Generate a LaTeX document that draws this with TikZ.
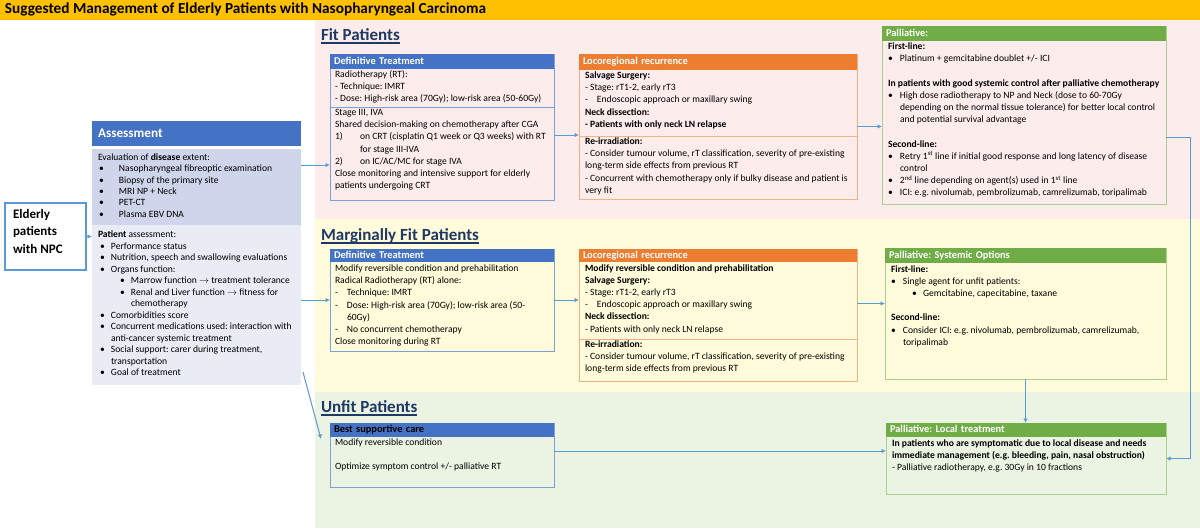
\documentclass[tikz,border=0pt]{standalone}
\usepackage{fontspec}
\setmainfont{Carlito}
\usetikzlibrary{arrows.meta}
\definecolor{titleyellow}{HTML}{FFC000}
\definecolor{pinkbg}{HTML}{FDECEC}
\definecolor{yellowbg}{HTML}{FFFBDB}
\definecolor{greenbg}{HTML}{EBF3E3}
\definecolor{navy}{HTML}{1F3864}
\definecolor{hblue}{HTML}{4472C4}
\definecolor{bbord}{HTML}{7F9FD8}
\definecolor{horange}{HTML}{ED7D31}
\definecolor{obord}{HTML}{F4B183}
\definecolor{hgreen}{HTML}{70AD47}
\definecolor{gbord}{HTML}{A9D18E}
\definecolor{disfill}{HTML}{CFD5EA}
\definecolor{patfill}{HTML}{E9EBF5}
\definecolor{arrowblue}{HTML}{5B9BD5}
\newcommand{\myind}[2]{\makebox[#1pt][l]{#2}}
\frenchspacing
\begin{document}
\frenchspacing
\begin{tikzpicture}[x=1pt,y=-1pt,
  every node/.style={inner sep=0pt, outer sep=0pt},
  boxframe/.style={draw=#1, line width=0.9pt, anchor=north west, inner sep=0pt},
  hdr/.style={fill=#1, anchor=north west, text=white, align=left, inner xsep=4pt, inner ysep=0pt, text height=7.3pt, text depth=2pt, font=\bfseries\fontsize{10.4}{12}\selectfont},
  bodytext/.style={anchor=north west, align=left, font=\fontsize{9.6}{12.2}\selectfont},
  heading/.style={anchor=base west, text=navy, font=\bfseries\fontsize{17}{20}\selectfont},
  uline/.style={draw=navy, line width=1.1pt},
  arr/.style={draw=arrowblue, line width=1pt, -{Latex[length=4.5pt,width=4.5pt]}},
  divider/.style={draw=#1, line width=0.9pt}
]
\useasboundingbox (0,0) rectangle (1200,528);
% backgrounds
\fill[white] (0,0) rectangle (1200,528);
\fill[titleyellow] (0,0) rectangle (1200,20);
\fill[pinkbg] (315,20) rectangle (1200,219);
\fill[yellowbg] (315,219) rectangle (1200,392);
\fill[greenbg] (315,392) rectangle (1200,528);
\node[anchor=base west, font=\bfseries\fontsize{15.3}{17}\selectfont] (title) at (5,13.5) {Suggested Management of Elderly Patients with Nasopharyngeal Carcinoma};

% headings
\node[heading] (hfit) at (321,40) {Fit Patients};
\draw[uline] ([yshift=-3pt]hfit.base west) -- ([yshift=-3pt]hfit.base east);
\node[heading] (hmar) at (321,240) {Marginally Fit Patients};
\draw[uline] ([yshift=-3pt]hmar.base west) -- ([yshift=-3pt]hmar.base east);
\node[heading] (hunf) at (321,412) {Unfit Patients};
\draw[uline] ([yshift=-3pt]hunf.base west) -- ([yshift=-3pt]hunf.base east);

% Elderly
\node[draw=arrowblue, line width=1.3pt, fill=white, anchor=north west, minimum width=81pt, minimum height=67pt] (eld) at (5,203) {};
\node[anchor=north west, align=left, font=\bfseries\fontsize{13}{17.5}\selectfont] (eldt) at (13,205.8) {\strut Elderly\\patients\\with NPC};

% Assessment
\node[fill=hblue, anchor=north west, text width=197pt, inner xsep=6pt, minimum height=25pt, text=white, align=left, font=\bfseries\fontsize{13.2}{15}\selectfont] (asm) at (92,121) {Assessment};
\node[fill=disfill, anchor=north west, minimum width=209pt, minimum height=76pt] (dis) at (92,149) {};
\node[bodytext, font=\fontsize{9.6}{11.3}\selectfont] (dist) at (98,152.6) {\strut Evaluation of \textbf{disease} extent:\\
\hspace*{1pt}\myind{20}{\textbullet}Nasopharyngeal fibreoptic examination\\
\hspace*{1pt}\myind{20}{\textbullet}Biopsy of the primary site\\
\hspace*{1pt}\myind{20}{\textbullet}MRI NP + Neck\\
\hspace*{1pt}\myind{20}{\textbullet}PET-CT\\
\hspace*{1pt}\myind{20}{\textbullet}Plasma EBV DNA};
\node[fill=patfill, anchor=north west, minimum width=209pt, minimum height=160pt] (pat) at (92,225) {};
\node[bodytext, font=\fontsize{9.6}{11.5}\selectfont] (patt) at (98,229.5) {\strut\textbf{Patient} assessment:\\
\hspace*{2pt}\myind{11}{\textbullet}Performance status\\
\hspace*{2pt}\myind{11}{\textbullet}Nutrition, speech and swallowing evaluations\\
\hspace*{2pt}\myind{11}{\textbullet}Organs function:\\
\hspace*{22pt}\myind{11}{\textbullet}Marrow function $\rightarrow$ treatment tolerance\\
\hspace*{22pt}\myind{11}{\textbullet}Renal and Liver function $\rightarrow$ fitness for\\
\hspace*{33pt}chemotherapy\\
\hspace*{2pt}\myind{11}{\textbullet}Comorbidities score\\
\hspace*{2pt}\myind{11}{\textbullet}Concurrent medications used: interaction with\\
\hspace*{13pt}anti-cancer systemic treatment\\
\hspace*{2pt}\myind{11}{\textbullet}Social support: carer during treatment,\\
\hspace*{13pt}transportation\\
\hspace*{2pt}\myind{11}{\textbullet}Goal of treatment};

% Fit: definitive
\node[boxframe=bbord, minimum width=224pt, minimum height=146pt] (fdt) at (330,54) {};
\node[hdr=hblue, text width=216pt, minimum height=15pt] (fdth) at (fdt.north west) {Definitive Treatment};
\node[bodytext] (fdta) at (335,69) {\strut Radiotherapy (RT):\\- Technique: IMRT\\- Dose: High-risk area (70Gy); low-risk area (50-60Gy)};
\node[bodytext] (fdtb) at (335,107) {\strut Stage III, IVA\\Shared decision-making on chemotherapy after CGA\\
\myind{25}{1)}on CRT (cisplatin Q1 week or Q3 weeks) with RT\\
\hspace*{25pt}for stage III-IVA\\
\myind{25}{2)}on IC/AC/MC for stage IVA\\
Close monitoring and intensive support for elderly\\patients undergoing CRT};
\draw[divider=bbord] (fdtb.north -| fdt.west) -- (fdtb.north -| fdt.east);

% Fit: locoregional
\node[boxframe=obord, minimum width=278pt, minimum height=145pt] (flr) at (579,54) {};
\node[hdr=horange, text width=270pt, minimum height=16pt] (flrh) at (flr.north west) {Locoregional recurrence};
\node[bodytext] (flra) at (585,70) {\strut\textbf{Salvage Surgery:}\\- Stage: rT1-2, early rT3\\
\myind{12}{-}Endoscopic approach or maxillary swing\\
\textbf{Neck dissection:}\\\textbf{- Patients with only neck LN relapse}};
\node[bodytext] (flrb) at (585,136) {\strut\textbf{Re-irradiation:}\\
- Consider tumour volume, rT classification, severity of pre-existing\\
long-term side effects from previous RT\\
- Concurrent with chemotherapy only if bulky disease and patient is\\very fit};
\draw[divider=obord] (flrb.north -| flr.west) -- (flrb.north -| flr.east);

% Fit: palliative
\node[boxframe=gbord, minimum width=284pt, minimum height=178pt] (fpal) at (882,26) {};
\node[hdr=hgreen, text width=276pt, minimum height=15pt] (fpalh) at (fpal.north west) {Palliative:};
\node[bodytext] (fpalt) at (888,41) {\strut\textbf{First-line:}\\
\myind{12}{\textbullet}Platinum + gemcitabine doublet +/- ICI\\[12.2pt]
\textbf{In patients with good systemic control after palliative chemotherapy}\\
\myind{12}{\textbullet}High dose radiotherapy to NP and Neck (dose to 60-70Gy\\
\hspace*{12pt}depending on the normal tissue tolerance) for better local control\\
\hspace*{12pt}and potential survival advantage\\[12.2pt]
\textbf{Second-line:}\\
\myind{12}{\textbullet}Retry 1\textsuperscript{st} line if initial good response and long latency of disease\\
\hspace*{12pt}control\\
\myind{12}{\textbullet}2\textsuperscript{nd} line depending on agent(s) used in 1\textsuperscript{st} line\\
\myind{12}{\textbullet}ICI: e.g. nivolumab, pembrolizumab, camrelizumab, toripalimab};

% Marginal: definitive
\node[boxframe=bbord, minimum width=224pt, minimum height=102pt] (mdt) at (330,249) {};
\node[hdr=hblue, text width=216pt, minimum height=13pt] (mdth) at (mdt.north west) {Definitive Treatment};
\node[bodytext] (mdtt) at (335,263) {\strut Modify reversible condition and prehabilitation\\
Radical Radiotherapy (RT) alone:\\
\myind{12}{-}Technique: IMRT\\
\myind{12}{-}Dose: High-risk area (70Gy); low-risk area (50-\\
\hspace*{12pt}60Gy)\\
\myind{12}{-}No concurrent chemotherapy\\
Close monitoring during RT};

% Marginal: locoregional
\node[boxframe=obord, minimum width=278pt, minimum height=132pt] (mlr) at (579,249) {};
\node[hdr=horange, text width=270pt, minimum height=13pt] (mlrh) at (mlr.north west) {Locoregional recurrence};
\node[bodytext] (mlra) at (585,262.5) {\strut\textbf{Modify reversible condition and prehabilitation}\\
\textbf{Salvage Surgery:}\\- Stage: rT1-2, early rT3\\
\myind{12}{-}Endoscopic approach or maxillary swing\\
\textbf{Neck dissection:}\\- Patients with only neck LN relapse};
\node[bodytext] (mlrb) at (585,339) {\strut\textbf{Re-irradiation:}\\
- Consider tumour volume, rT classification, severity of pre-existing\\
long-term side effects from previous RT};
\draw[divider=obord] (mlrb.north -| mlr.west) -- (mlrb.north -| mlr.east);

% Marginal: palliative systemic
\node[boxframe=gbord, minimum width=281pt, minimum height=131pt] (psys) at (885,248) {};
\node[hdr=hgreen, text width=273pt, minimum height=15pt] (psysh) at (psys.north west) {Palliative: Systemic Options};
\node[bodytext] (psyst) at (891,263.5) {\strut\textbf{First-line:}\\
\myind{12}{\textbullet}Single agent for unfit patients:\\
\hspace*{21pt}\myind{11}{\textbullet}Gemcitabine, capecitabine, taxane\\[12.2pt]
\textbf{Second-line:}\\
\myind{12}{\textbullet}Consider ICI: e.g. nivolumab, pembrolizumab, camrelizumab,\\
\hspace*{12pt}toripalimab};

% Unfit: best supportive care
\node[boxframe=bbord, minimum width=224pt, minimum height=64pt] (unf) at (330,423) {};
\node[hdr=hblue, text=black, text width=216pt, minimum height=14pt] (unfh) at (unf.north west) {Best supportive care};
\node[bodytext] (unft) at (335,437) {\strut Modify reversible condition\\[12.2pt]Optimize symptom control +/- palliative RT};

% Unfit: palliative local
\node[boxframe=gbord, minimum width=280pt, minimum height=71pt] (ploc) at (886,423) {};
\node[hdr=hgreen, text width=272pt, minimum height=14pt] (ploch) at (ploc.north west) {Palliative: Local treatment};
\node[bodytext] (ploct) at (892,437.5) {\strut\textbf{In patients who are symptomatic due to local disease and needs}\\
\textbf{immediate management (e.g. bleeding, pain, nasal obstruction)}\\
- Palliative radiotherapy, e.g. 30Gy in 10 fractions};

% connectors
\draw[arr] (eld.east) -- (eld.east -| pat.west);
\coordinate (c2) at ([yshift=-16pt]dis.north east);
\draw[arr] (c2) -- (c2 -| fdt.west);
\draw[arr] (mdt.west -| pat.east) -- (mdt.west);
\coordinate (c4a) at ([xshift=2pt,yshift=13pt]pat.south east);
\coordinate (c4b) at ([xshift=-9pt,yshift=-16pt]unf.north west);
\draw[arr] (c4a) -- (c4b);
\coordinate (c5) at ([yshift=-8pt]fdt.east);
\draw[arr] (c5) -- (c5 -| flr.west);
\draw[arr] (flr.east) -- (flr.east -| fpal.west);
\draw[arr] (mdt.east) -- (mdt.east -| mlr.west);
\coordinate (c8) at ([yshift=10pt]psys.west);
\draw[arr] (c8 -| mlr.east) -- (c8);
\coordinate (c9) at ([yshift=-22pt]fpal.east);
\coordinate (c9b) at ([xshift=24pt]c9);
\draw[arr] (c9) -- (c9b) |- (ploc.east);
\draw[arr] (psys.south) -- (psys.south |- ploc.north);
\coordinate (c11) at ([yshift=4pt]unf.east);
\draw[arr] (c11) -- (c11 -| ploc.west);
\end{tikzpicture}
\end{document}
